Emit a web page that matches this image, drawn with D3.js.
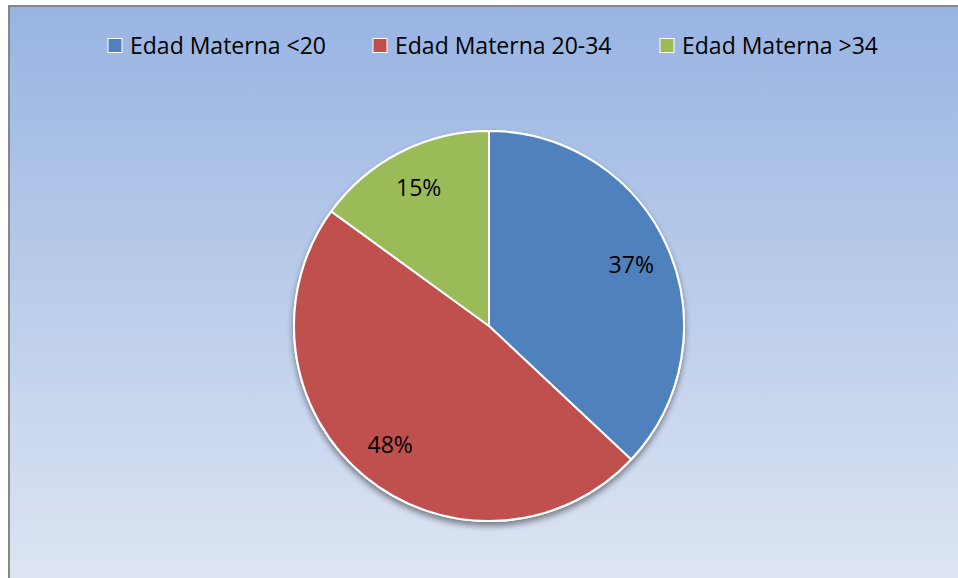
<!DOCTYPE html>
<html><head><meta charset="utf-8">
<script src="https://cdn.jsdelivr.net/npm/d3@7"></script>
<style>html,body{margin:0;padding:0;background:#fff;}svg{display:block;}</style>
</head><body>
<svg id="chart" width="958" height="578"></svg>
<script>
const categories = ["Edad Materna <20", "Edad Materna 20-34", "Edad Materna >34"];
const values = [37, 48, 15];
const labels = ["37%", "48%", "15%"];
const colors = ["#4f81bd", "#c0504d", "#9bbb59"];

const W = 958, H = 578;
const svg = d3.select("#chart");
const defs = svg.append("defs");
const bg = defs.append("linearGradient").attr("id","bg").attr("x1",0).attr("y1",0).attr("x2",0).attr("y2",1);
bg.append("stop").attr("offset","0%").attr("stop-color","#98b4e2");
bg.append("stop").attr("offset","100%").attr("stop-color","#dfe6f3");
const f = defs.append("filter").attr("id","shadow").attr("x","-20%").attr("y","-20%").attr("width","140%").attr("height","140%");
f.append("feGaussianBlur").attr("in","SourceAlpha").attr("stdDeviation",3);
f.append("feOffset").attr("dx",0).attr("dy",4).attr("result","ob");
f.append("feComponentTransfer").append("feFuncA").attr("type","linear").attr("slope",0.45);
const fm = f.append("feMerge");
fm.append("feMergeNode");
fm.append("feMergeNode").attr("in","SourceGraphic");

svg.append("rect").attr("x",9).attr("y",6).attr("width",W+10).attr("height",H+10)
  .attr("fill","url(#bg)").attr("stroke","#878787").attr("stroke-width",2);

const cx = 489, cy = 326, r = 195;
const pie = d3.pie().sort(null).value(d => d)(values);
const arc = d3.arc().innerRadius(0).outerRadius(r);
const g = svg.append("g").attr("transform", `translate(${cx},${cy})`);
g.append("circle").attr("r", r+1).attr("fill","#fff").attr("filter","url(#shadow)");
g.selectAll("path").data(pie).join("path")
  .attr("d", arc).attr("fill", (d,i) => colors[i])
  .attr("stroke","#fff").attr("stroke-width",2).attr("stroke-linejoin","round");

const labelArc = d3.arc().innerRadius(155).outerRadius(155);
g.selectAll("text.lbl").data(pie).join("text").attr("class","lbl")
  .attr("transform", d => `translate(${labelArc.centroid(d)})`)
  .attr("text-anchor","middle").attr("dy","0.35em")
  .attr("font-family","'Open Sans', sans-serif").attr("font-size",23).attr("fill","#000")
  .text((d,i) => labels[i]);

const legendX = [108, 373, 660];
const lg = svg.append("g");
categories.forEach((c,i) => {
  lg.append("rect").attr("x", legendX[i]).attr("y", 38.5).attr("width", 14).attr("height", 14)
    .attr("fill", colors[i]).attr("stroke","#fff").attr("stroke-width",1);
  lg.append("text").attr("x", legendX[i] + 22).attr("y", 54)
    .attr("font-family","'Open Sans', sans-serif").attr("font-size",23).attr("fill","#000")
    .text(c);
});
</script>
</body></html>
